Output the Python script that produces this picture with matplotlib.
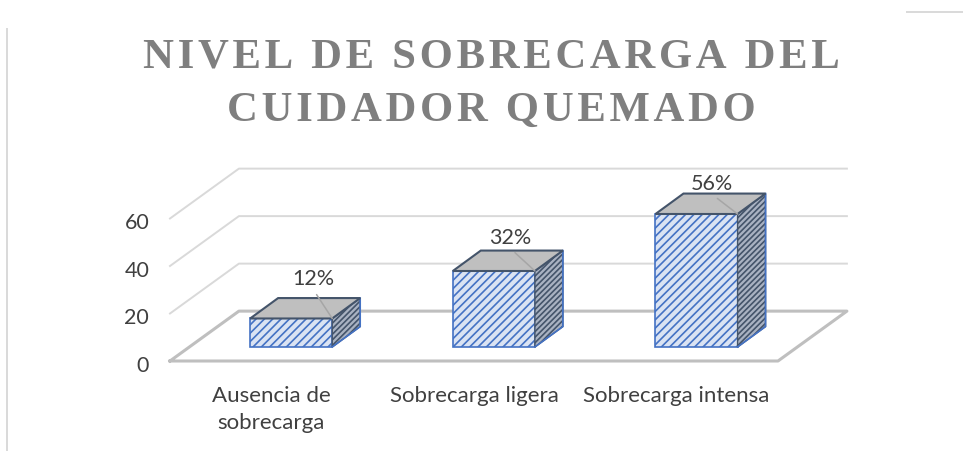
import matplotlib
matplotlib.use("Agg")
import matplotlib.pyplot as plt
from matplotlib.lines import Line2D
from matplotlib.transforms import ScaledTranslation

# values
categories = ["Ausencia de\nsobrecarga", "Sobrecarga ligera", "Sobrecarga intensa"]
values = [12, 32, 56]
labels = ["12%", "32%", "56%"]
y_ticks = [0, 20, 40, 60]

W, H = 963, 451
DPI = 100

# fake 3D: depth of the floor and of the bars, in data units
WALL_DX, WALL_DY = 0.340, 21.0
BAR_OFF_DX, BAR_OFF_DY = 0.098, 5.9
BAR_DX, BAR_DY = 0.138, 8.6
BAR_W = 0.405
# label offset from the bar's top front corner, pixels
label_offsets = [(-19, 39), (-25, 33), (-26, 30)]

plt.rcParams["font.family"] = ["Lato", "DejaVu Sans"]
plt.rcParams["hatch.linewidth"] = 1.2

fig = plt.figure(figsize=(W / DPI, H / DPI), dpi=DPI)
ax = fig.add_axes([170 / W, 1 - 361 / H, 608 / W, 142.5 / H])
ax.set_xlim(-0.5, 2.5)
ax.set_ylim(0, 60)
ax.patch.set_visible(False)
for s in ax.spines.values():
    s.set_visible(False)

# floor and wall grid
x0, x1 = ax.get_xlim()
for t in y_ticks[1:]:
    ax.plot([x0, x0 + WALL_DX, x1 + WALL_DX], [t, t + WALL_DY, t + WALL_DY],
            color="#d9d9d9", lw=1.4, clip_on=False, zorder=1)
ax.plot([x0, x0 + WALL_DX, x1 + WALL_DX, x1, x0], [0, WALL_DY, WALL_DY, 0, 0],
        color="#bfbfbf", lw=2.2, clip_on=False, zorder=2)

# bars
for i, v in enumerate(values):
    left = i - BAR_W / 2 + BAR_OFF_DX
    right = left + BAR_W
    base = BAR_OFF_DY
    top = base + v
    ax.bar(left, v, BAR_W, bottom=base, align="edge", facecolor="#dae3f3",
           edgecolor="#4472c4", hatch="////", lw=1.2, clip_on=False, zorder=4)
    ax.fill([right, right + BAR_DX, right + BAR_DX, right],
            [base, base + BAR_DY, top + BAR_DY, top],
            facecolor="#a9b2c2", edgecolor="#44546a", hatch="//////", lw=1.0,
            clip_on=False, zorder=4)
    ax.plot([right + BAR_DX, right + BAR_DX, right], [top + BAR_DY, base + BAR_DY, base],
            color="#4472c4", lw=1.2, clip_on=False, zorder=5)
    ax.fill([left, right, right + BAR_DX, left + BAR_DX],
            [top, top, top + BAR_DY, top + BAR_DY],
            facecolor="#bfbfbf", edgecolor="#44546a", lw=1.5, clip_on=False, zorder=5)
    ax.annotate(labels[i], xy=(right, top), xytext=label_offsets[i],
                textcoords="offset pixels", ha="center", va="center",
                fontsize=15.5, color="#404040", annotation_clip=False, zorder=7,
                arrowprops=dict(arrowstyle="-", color="#a6a6a6", lw=1.1, relpos=(0.5, 0),
                                shrinkA=2, shrinkB=0))

ax.set_xticks(range(len(categories)))
ax.set_xticklabels(categories, linespacing=1.45)
ax.set_yticks(y_ticks)
ax.tick_params(axis="x", length=0, pad=18, labelsize=16, labelcolor="#404040")
ax.tick_params(axis="y", length=0, pad=15, labelsize=15.5, labelcolor="#404040")
# y labels sit a little below their levels in the original
for lab in ax.get_yticklabels():
    lab.set_transform(lab.get_transform() + ScaledTranslation(0, -3 / DPI, fig.dpi_scale_trans))

# title, widened with hair spaces to get the tracking
title_lines = ["NIVEL DE SOBRECARGA DEL", "CUIDADOR QUEMADO"]
title = "\n".join("\u200a".join(line) for line in title_lines)
fig.text(491 / W, 1 - 84 / H, title, ha="center", va="center", fontsize=30.8,
         fontweight="bold", family=["Liberation Serif", "DejaVu Sans"],
         color="#7f7f7f", linespacing=1.53)

# remains of the outer chart frame
fig.add_artist(Line2D([7 / W, 7 / W], [0, 1 - 29 / H], color="#d9d9d9", lw=1.4))
fig.add_artist(Line2D([907 / W, 1], [1 - 12 / H, 1 - 12 / H], color="#d9d9d9", lw=1.4))

fig.savefig("out.png", dpi=DPI)
plt.close(fig)
